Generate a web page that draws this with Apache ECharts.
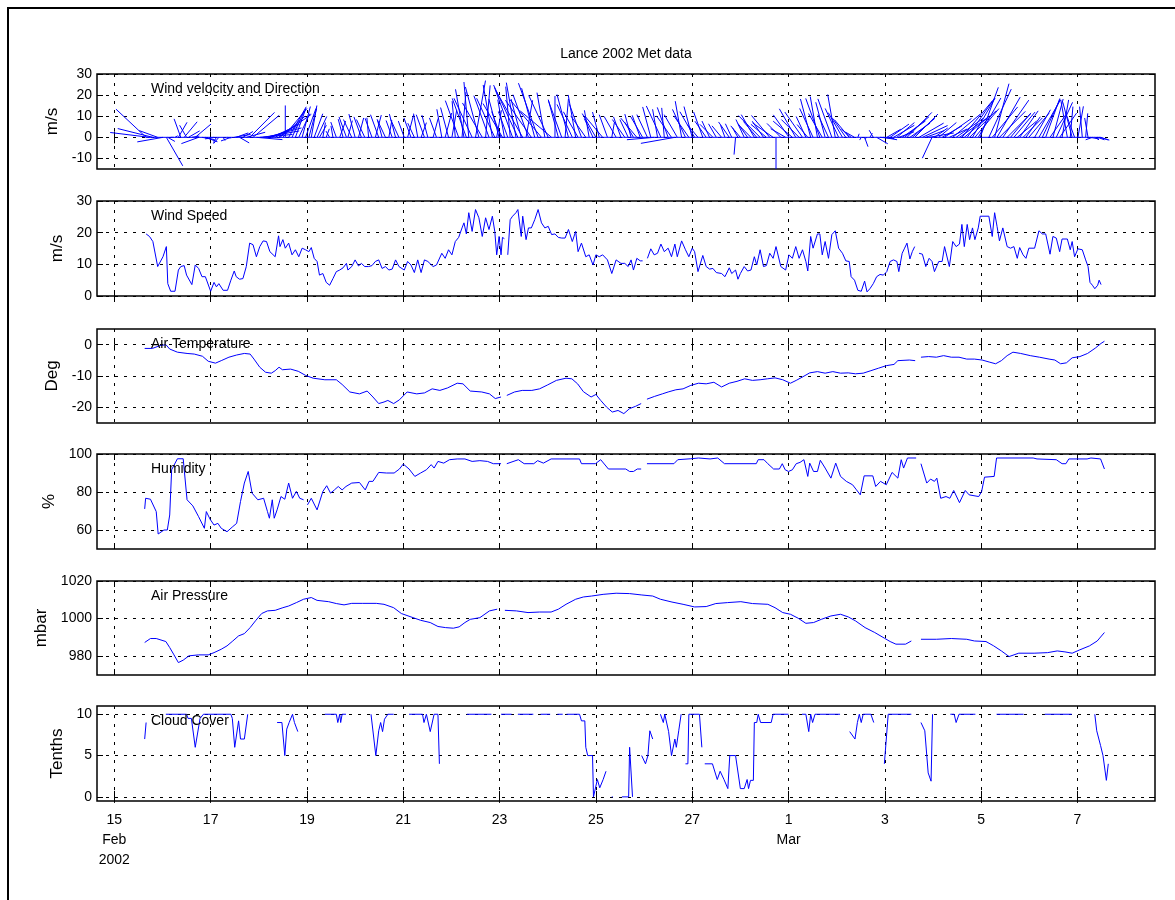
<!DOCTYPE html>
<html><head><meta charset="utf-8">
<script src="https://cdn.jsdelivr.net/npm/echarts@6/dist/echarts.min.js"></script>
<style>html,body{margin:0;padding:0;background:#fff}#c{width:1175px;height:900px}</style>
</head><body><div id="c"></div>
<script>
// ---- time axis (days of Feb 2002; 29 = 1 Mar) ----
const xTickDays = [15,17,19,21,23,25,27,29,31,33,35];
const xTickLabels = ['15\nFeb\n2002','17','19','21','23','25','27','1\nMar','3','5','7'];

// ---- wind speed (m/s) and wind direction of each stick (deg, 0 = toward +v, 90 = toward +u) ----
const windT = [15.66,15.73,15.80,15.90,16.01,16.08,16.11,16.17,16.26,16.33,16.38,16.45,16.50,16.54,16.61,16.68,16.75,16.82,16.89,17.00,
17.07,17.12,17.17,17.26,17.35,17.42,17.49,17.53,17.60,17.67,17.74,17.81,17.88,17.95,18.02,18.09,18.16,18.23,18.27,18.34,
18.41,18.44,18.50,18.55,18.62,18.69,18.76,18.83,18.90,18.97,19.04,19.09,19.15,19.21,19.26,19.33,19.40,19.47,19.54,19.61,
19.68,19.75,19.82,19.85,19.93,20.00,20.07,20.13,20.20,20.28,20.35,20.42,20.49,20.56,20.63,20.70,20.77,20.84,20.91,21.02,
21.09,21.16,21.23,21.30,21.37,21.44,21.51,21.62,21.69,21.80,21.87,21.94,22.01,22.08,22.15,22.22,22.26,22.31,22.36,22.43,
22.50,22.57,22.64,22.71,22.78,22.85,22.90,22.94,22.99,23.03,23.06,23.10,23.13,23.17,23.22,23.27,23.34,23.38,23.45,23.48,
23.55,23.60,23.66,23.73,23.80,23.87,23.94,24.01,24.08,24.15,24.22,24.29,24.36,24.43,24.51,24.58,24.63,24.70,24.79,24.86,
24.94,25.00,25.07,25.14,25.24,25.33,25.42,25.52,25.60,25.67,25.73,25.78,25.85,25.92,25.97,26.02,26.07,26.14,26.21,26.28,
26.35,26.42,26.50,26.57,26.64,26.69,26.78,26.86,26.93,27.00,27.05,27.12,27.22,27.29,27.36,27.43,27.50,27.61,27.68,27.77,
27.82,27.90,27.95,28.00,28.08,28.15,28.22,28.29,28.34,28.41,28.48,28.54,28.61,28.68,28.74,28.84,28.94,29.01,29.08,29.15,
29.22,29.29,29.36,29.40,29.46,29.51,29.60,29.65,29.70,29.76,29.83,29.90,29.97,30.04,30.12,30.19,30.26,30.30,30.37,30.44,
30.51,30.58,30.63,30.69,30.76,30.83,30.90,30.97,31.04,31.11,31.18,31.25,31.29,31.36,31.41,31.46,31.52,31.57,31.62,31.66,
31.71,31.78,31.85,31.92,31.98,32.03,32.12,32.19,32.24,32.34,32.41,32.48,32.55,32.60,32.65,32.71,32.76,32.82,32.87,32.94,
32.98,33.16,33.23,33.28,33.33,33.38,33.45,33.54,33.61,33.68,33.75,33.80,33.87,33.93,33.99,34.11,34.20,34.27,34.34,34.43,
34.49,34.56,34.63,34.68,34.79,34.85,34.89,34.94,35.01,35.10,35.17,35.22,35.26,35.31,35.36,35.42,35.45,35.49];
const windS = [19.6,18.8,17.2,9.3,12.4,15.6,3.9,1.5,1.5,8.2,9.3,9.6,6.6,6.1,3.6,9.8,8.7,6.1,6.1,1.5,
4.3,2.9,3.9,1.8,1.8,5.0,7.9,6.1,5.3,5.5,9.3,16.7,16.2,12.4,15.6,17.4,17.2,14.0,14.6,12.4,
19.0,15.6,17.8,15.1,16.7,13.0,14.6,12.4,15.1,14.6,14.0,15.3,11.9,10.9,6.6,7.1,4.3,3.4,5.5,7.7,
8.2,8.9,10.3,8.2,9.3,11.4,9.5,10.3,9.3,9.3,9.6,10.9,11.4,8.7,9.3,8.2,8.5,11.4,9.3,8.2,
10.9,9.8,7.4,11.4,7.4,11.4,10.9,9.3,9.8,13.5,11.9,14.6,13.0,17.2,18.5,21.5,23.1,19.6,26.3,20.4,
27.3,24.7,18.8,24.7,21.0,25.2,20.4,13.0,18.8,13.0,18.5,18.1,null,13.0,24.1,25.2,26.3,27.3,18.8,25.2,
17.8,21.5,21.5,24.1,27.3,23.1,21.5,22.0,19.4,19.6,18.5,18.3,18.3,21.0,17.2,20.4,14.0,16.7,12.4,13.0,
9.8,13.0,12.4,13.0,11.4,7.1,11.4,10.3,10.3,9.3,11.4,8.2,11.9,11.1,11.1,null,11.9,14.9,13.0,13.5,
16.4,14.0,15.1,12.4,16.4,12.4,17.4,14.6,12.4,15.1,14.0,7.7,12.8,9.3,8.5,8.7,7.4,7.1,6.1,8.9,
7.1,8.2,5.3,7.1,9.3,7.9,8.2,12.4,9.8,14.6,9.3,9.6,13.5,11.9,15.6,9.3,8.2,13.0,11.9,15.6,
11.9,14.6,10.9,7.9,18.8,15.1,19.6,19.6,13.0,17.2,11.9,19.4,20.6,15.1,13.5,11.1,10.9,6.1,5.0,1.8,
1.5,4.7,1.3,2.3,3.9,6.1,6.8,6.6,7.7,10.9,11.4,10.9,7.7,13.5,15.1,16.7,11.7,14.0,15.6,null,
13.5,13.2,9.3,11.9,10.9,7.7,10.9,10.9,15.6,9.3,17.2,15.6,16.4,22.6,15.6,22.6,17.8,21.5,17.8,21.5,
25.2,25.2,18.8,26.3,22.0,17.4,21.5,15.6,15.1,15.6,11.9,15.3,13.0,11.9,15.1,15.1,20.6,19.6,19.6,13.2,
18.8,18.3,14.0,18.0,18.0,14.6,17.2,12.4,14.9,14.6,11.4,9.3,4.3,3.4,2.3,3.4,5.0,3.6];
const windDir = [-47,-83,-76,-70,-100,150,120,90,60,30,-20,40,-30,60,80,50,-110,100,110,-120,
-100,-150,-140,150,100,-110,80,70,120,60,75,45,50,95,85,80,75,70,65,60,
55,50,40,0,30,25,20,25,15,20,15,10,20,25,30,10,20,-30,-10,-20,
20,-15,-20,15,-25,-15,15,-20,-25,-5,-20,15,-20,-15,-25,10,-20,-15,-25,-20,
15,-20,-25,-10,20,-20,-15,15,-20,-10,15,-15,10,-5,-20,5,-10,-20,-5,-25,
10,-15,-30,5,-20,-10,-25,10,-15,-20,-30,-10,null,-20,-5,-20,-10,-25,-15,-30,
10,-20,-35,-15,-20,-40,-10,-25,-50,0,-15,-20,5,-15,-25,-10,-30,-20,-35,-10,
-25,-30,-15,-40,-20,10,-30,-20,-35,-25,-15,-30,-40,-20,-30,null,-25,-15,-95,-10,
-25,-5,-20,-35,-100,-30,-10,-25,-35,-15,-30,-40,-20,-35,-25,-45,-30,-40,-20,-35,
-25,185,-30,-40,-25,-35,-45,-30,-40,-45,-35,-50,-40,-55,180,-45,-60,-35,-50,-30,
-45,-35,-25,-40,-15,-25,-10,-20,-30,-15,-25,-20,-10,-25,-30,-35,-40,-50,-60,20,
-150,160,-120,30,-30,120,95,100,60,55,60,50,70,55,50,45,55,50,45,null,
60,65,70,80,205,55,50,60,55,65,50,55,55,40,50,35,45,30,40,30,
20,25,40,15,30,45,35,45,40,40,50,35,45,35,40,30,30,25,20,35,
15,25,35,10,-10,5,-15,-20,10,-5,5,-10,100,-110,120,110,105,110];

// ---- air temperature (deg C) ----
const tempT = [15.63,15.79,15.95,16.07,16.15,16.31,16.51,16.66,16.83,16.95,17.10,17.22,17.38,17.54,17.70,17.82,17.90,18.02,18.14,18.26,
18.34,18.42,18.49,18.66,18.82,18.97,19.13,19.37,19.61,19.73,19.89,20.09,20.25,20.37,20.49,20.60,20.68,20.80,20.92,21.08,
21.28,21.44,21.60,21.76,21.92,22.12,22.24,22.39,22.63,22.79,22.91,23.03,23.09,23.15,23.31,23.47,23.67,23.83,23.99,24.18,
24.38,24.50,24.62,24.74,24.90,25.00,25.10,25.22,25.34,25.46,25.58,25.70,25.82,25.94,26.00,26.06,26.22,26.38,26.50,26.66,
26.81,26.97,27.13,27.29,27.45,27.61,27.77,27.93,28.09,28.25,28.41,28.56,28.72,28.88,29.04,29.16,29.28,29.44,29.60,29.76,
29.92,30.08,30.24,30.39,30.55,30.71,30.87,31.03,31.19,31.27,31.51,31.63,31.69,31.75,31.91,32.07,32.22,32.38,32.54,32.70,
32.86,33.02,33.18,33.30,33.42,33.54,33.66,33.82,34.02,34.21,34.41,34.53,34.65,34.77,34.89,35.05,35.21,35.37,35.49,35.56];
const tempV = [-1.2,-1.2,-0.3,0.0,-1.4,-2.4,-2.8,-3.0,-3.7,-5.3,-5.9,-5.1,-4.0,-3.3,-2.8,-3.0,-4.6,-7.2,-8.8,-9.1,
-8.3,-7.2,-8.0,-7.8,-8.5,-9.8,-10.7,-11.2,-11.2,-12.7,-15.1,-15.7,-14.8,-16.7,-18.8,-18.3,-17.8,-18.8,-17.6,-15.1,
-15.7,-15.4,-14.1,-14.6,-13.8,-12.3,-12.5,-14.8,-15.1,-15.7,-17.2,-16.7,null,-16.2,-15.1,-14.6,-14.6,-14.1,-12.9,-11.4,
-10.7,-10.9,-12.5,-15.0,-16.7,-15.9,-17.8,-19.9,-21.5,-21.0,-22.0,-20.4,-19.7,-18.8,null,-17.4,-16.5,-15.7,-15.1,-14.4,
-14.1,-13.0,-12.3,-12.5,-12.0,-13.5,-12.3,-11.7,-10.9,-11.4,-11.2,-10.9,-10.6,-11.2,-12.3,-11.4,-10.4,-9.0,-8.6,-9.1,
-8.6,-9.1,-9.0,-9.3,-9.1,-8.3,-7.5,-6.7,-6.3,-5.1,-4.9,-5.1,null,-4.0,-3.8,-4.0,-3.5,-4.0,-4.0,-4.6,
-4.6,-4.9,-5.6,-6.1,-5.1,-3.5,-2.4,-2.8,-3.5,-4.0,-4.6,-4.9,-6.1,-5.8,-4.2,-3.8,-2.8,-1.1,0.4,1.1];

// ---- humidity (%) ----
const humT = [15.63,15.65,15.75,15.87,15.91,16.03,16.10,16.15,16.19,16.31,16.43,16.51,16.63,16.75,16.87,16.91,16.99,17.07,17.15,17.22,
17.34,17.46,17.54,17.62,17.70,17.78,17.86,17.98,18.10,18.18,18.22,18.28,18.32,18.38,18.46,18.54,18.62,18.70,18.78,18.85,
18.93,18.97,19.01,19.09,19.21,19.33,19.41,19.49,19.57,19.65,19.73,19.81,19.93,20.09,20.21,20.29,20.37,20.49,20.65,20.81,
20.92,21.00,21.12,21.24,21.36,21.48,21.58,21.64,21.72,21.84,21.96,22.12,22.28,22.43,22.59,22.75,22.87,23.03,23.09,23.15,
23.39,23.51,23.71,23.79,23.91,24.07,24.38,24.66,24.70,24.99,25.10,25.26,25.62,25.70,25.78,25.86,25.94,26.00,26.06,26.62,
26.70,26.97,27.13,27.37,27.53,27.67,28.33,28.37,28.49,28.57,28.69,28.81,28.87,28.93,29.00,29.08,29.16,29.24,29.32,29.40,
29.44,29.52,29.60,29.66,29.76,29.88,29.98,30.08,30.20,30.33,30.40,30.49,30.57,30.75,30.81,30.91,31.03,31.15,31.27,31.34,
31.39,31.47,31.65,31.70,31.75,31.87,31.95,32.03,32.08,32.16,32.27,32.35,32.43,32.55,32.67,32.75,32.95,33.01,33.07,33.27,
33.32,34.08,34.16,34.56,34.68,34.76,34.82,35.20,35.28,35.48,35.56];
const humV = [71.1,76.7,76.2,69.7,57.9,60.0,60.0,67.9,91.7,97.5,97.5,75.9,72.7,67.0,60.9,69.7,65.6,62.6,63.5,60.9,
59.1,61.8,63.5,75.0,84.7,90.8,79.4,75.9,76.7,69.7,66.2,75.9,66.2,70.6,77.6,76.2,84.7,76.7,80.3,76.7,
75.9,null,73.2,76.7,70.6,80.3,83.3,79.4,81.1,82.9,81.1,82.9,84.7,85.0,81.1,85.6,85.6,90.3,90.0,90.0,
92.1,94.7,92.1,88.2,90.0,91.7,94.4,92.6,96.1,95.2,97.0,97.4,97.4,96.1,96.5,96.1,94.9,94.9,null,94.9,
97.0,94.9,94.9,96.5,95.2,97.4,97.4,97.4,94.9,94.9,97.0,92.1,92.1,90.8,90.8,92.1,92.1,null,94.9,94.9,
97.0,97.5,97.9,97.4,97.9,94.9,94.9,97.0,97.0,94.9,92.1,92.1,94.9,91.7,90.8,91.7,94.9,95.6,97.0,88.2,
95.2,90.8,90.8,96.7,92.6,87.3,95.2,88.2,85.6,83.8,81.5,78.5,88.5,88.5,82.9,85.6,83.8,90.3,87.3,97.0,
92.6,97.9,97.9,null,94.9,84.7,86.8,85.6,87.3,76.7,77.6,76.7,80.8,74.4,80.8,78.5,77.6,80.3,87.8,88.2,
97.9,97.9,97.4,97.0,94.9,94.9,97.4,97.4,97.9,97.4,92.1];

// ---- air pressure (mbar) ----
const presT = [15.63,15.75,15.87,16.07,16.15,16.23,16.33,16.43,16.55,16.75,16.95,17.07,17.22,17.34,17.46,17.58,17.70,17.82,17.94,18.06,
18.18,18.34,18.50,18.62,18.78,18.93,19.09,19.21,19.45,19.61,19.77,19.93,20.16,20.44,20.60,20.80,20.96,21.16,21.36,21.56,
21.72,21.88,22.04,22.16,22.28,22.39,22.59,22.79,22.95,23.05,23.11,23.35,23.59,23.83,24.07,24.22,24.38,24.58,24.74,24.91,
25.15,25.42,25.70,25.94,26.18,26.34,26.58,26.81,27.05,27.29,27.49,27.73,28.01,28.25,28.57,28.72,28.88,29.04,29.20,29.36,
29.52,29.68,29.88,30.08,30.24,30.39,30.59,30.79,30.99,31.11,31.23,31.43,31.55,31.66,31.75,32.07,32.38,32.70,32.86,33.10,
33.26,33.42,33.58,33.78,34.10,34.38,34.58,34.74,34.89,35.05,35.25,35.41,35.56];
const presV = [987.3,989.4,989.4,987.8,984.6,981.1,976.6,977.9,980.2,980.7,980.7,981.9,983.7,985.5,988.1,990.8,992.0,995.2,999.1,1002.7,
1004.1,1004.4,1005.8,1006.7,1008.5,1010.3,1011.2,1009.7,1009.0,1008.0,1007.3,1008.1,1008.1,1008.1,1007.6,1005.8,1002.7,1000.9,999.1,997.9,
995.8,995.2,994.9,995.6,997.9,999.6,1000.5,1004.1,1005.0,null,1004.4,1004.1,1003.2,1003.5,1003.5,1005.0,1007.6,1010.3,1011.5,1012.0,
1012.9,1013.5,1013.3,1012.6,1012.0,1010.3,1008.8,1007.6,1006.2,1006.4,1008.0,1008.5,1009.0,1008.0,1007.6,1005.8,1003.2,1002.3,1000.2,997.5,
997.9,999.6,1001.4,1002.3,1000.9,998.8,995.2,992.6,989.6,987.8,986.4,986.4,988.1,null,989.0,989.0,989.4,989.0,988.1,987.8,
985.5,982.8,979.8,981.6,981.6,981.9,982.8,982.3,981.6,983.4,985.5,988.1,992.6];

// ---- cloud cover (tenths) ----
const cloudT = [15.63,15.66,15.80,16.07,16.50,16.53,16.60,16.68,16.78,16.85,17.42,17.45,17.50,17.58,17.62,17.70,17.77,18.00,18.38,18.48,
18.54,18.58,18.63,18.70,18.74,18.81,19.00,19.37,19.61,19.64,19.68,19.70,19.73,19.81,20.00,20.33,20.43,20.49,20.53,20.57,
20.61,20.68,20.80,21.00,21.12,21.40,21.43,21.48,21.56,21.64,21.72,21.75,22.00,22.32,22.83,22.90,23.03,23.25,23.30,23.38,
23.70,23.75,23.85,24.05,24.15,24.20,24.31,24.35,24.39,24.66,24.70,24.77,24.79,24.83,24.93,24.95,24.99,25.03,25.08,25.15,
25.21,25.28,25.33,25.35,25.45,25.54,25.68,25.70,25.76,25.85,25.95,25.99,26.03,26.08,26.12,26.18,26.25,26.34,26.40,26.43,
26.51,26.57,26.64,26.67,26.72,26.77,26.82,26.86,26.91,26.93,27.15,27.20,27.23,27.26,27.42,27.52,27.58,27.66,27.74,27.78,
27.90,28.00,28.08,28.14,28.17,28.21,28.27,28.29,28.34,28.37,28.42,28.64,28.68,29.00,29.10,29.28,29.36,29.42,29.46,29.50,
29.55,30.07,30.15,30.27,30.38,30.43,30.47,30.51,30.55,30.71,30.77,30.88,30.99,31.07,31.55,31.65,31.75,31.83,31.90,31.96,
31.99,32.10,32.36,32.44,32.48,32.54,32.88,33.00,33.32,33.88,34.00,34.32,34.88,35.00,35.36,35.40,35.48,35.53,35.60,35.64];
const cloudV = [7,9,null,10,10,9.5,9.5,6,9.5,10,10,9.5,6,9.2,7,7,10,null,9,9,
5,8.2,9,10,9,7.9,null,10,10,9,10,9,10,10,null,10,5,8,9,7.9,
9.4,10,10,null,10,10,9,10,7.9,10,10,4,null,10,10,null,10,10,null,10,
10,null,10,10,null,10,10,null,10,10,9.2,9.2,6,5,5,0,0,2.1,1.1,2.1,
3.1,null,0,0,null,0,0,6,0,null,5,5,4,5,8,7,null,10,9,10,
7.9,5,7,6,8,10,null,4,4,10,10,6,null,4,4,2.1,3.1,2.1,1,5,
5,1,1,2.1,1,2,2,9,9,10,9,9,10,10,null,10,10,7.9,10,9,
10,10,null,7.9,7,9,10,9,10,10,9,null,4,10,10,null,9,8,2.9,1.9,
10,null,10,10,9,10,10,null,10,10,null,10,10,null,10,8,6.2,5,2,4];

// ---- y-axis tick values ----
const velTicks = [-10,0,10,20,30];
const speedTicks = [0,10,20,30];
const tempTicks = [-20,-10,0];
const humTicks = [60,80,100];
const presTicks = [980,1000,1020];
const cloudTicks = [0,5,10];

const panelNames = ['m/s','m/s','Deg','%','mbar','Tenths'];
const panelLabels = ['Wind velocity and Direction','Wind Speed','Air Temperature','Humidity','Air Pressure','Cloud Cover'];
const panelTicks = [velTicks, speedTicks, tempTicks, humTicks, presTicks, cloudTicks];
const panelRange = [[-15,30],[0,30],[-25,5],[50,100],[970,1020],[-0.5,11]];

// ---------------- layout / styles ----------------
const FONT = '"Liberation Sans", Arial, Helvetica, sans-serif';
const gridTops = [74, 201, 329, 454, 581, 706];
const gridHeights = [95, 95, 94, 95, 94, 95];
const nameGaps = [26, 26, 25, 31, 28, 30];
const GL = 97, GR = 20;
const xMin = 14.64, xMax = 36.61;
const BLUE = '#0000ff';
const featherScale = 0.0437; // days per m/s of east component (equal pixel aspect)

const zip = (t, v) => t.map((x, i) => [x, v[i] == null ? '-' : v[i]]);

const grids = [], xAxes = [], yAxes = [], series = [], graphics = [];
for (let i = 0; i < 6; i++) {
  grids.push({left: GL, right: GR, top: gridTops[i], height: gridHeights[i], show: true,
    borderColor: '#000', borderWidth: 1.5, backgroundColor: 'transparent'});
  const last = i === 5;
  xAxes.push({type: 'value', gridIndex: i, min: xMin, max: xMax, position: 'bottom',
    axisLine: {show: false},
    axisTick: {show: true, inside: true, length: 6, customValues: xTickDays, lineStyle: {color: '#000', width: 1}},
    axisLabel: {show: last, customValues: xTickDays, margin: 9, fontSize: 14, color: '#000', fontFamily: FONT,
      lineHeight: 20, formatter: v => { const k = xTickDays.indexOf(v); return k >= 0 ? xTickLabels[k] : ''; }},
    splitLine: {show: true, lineStyle: {color: '#000', type: [3, 6], width: 1}}
  });
  xAxes.push({type: 'value', gridIndex: i, min: xMin, max: xMax, position: 'top',
    axisLine: {show: false},
    axisTick: {show: true, inside: true, length: 6, customValues: xTickDays, lineStyle: {color: '#000', width: 1}},
    axisLabel: {show: false}, splitLine: {show: false}
  });
  const tk = panelTicks[i];
  yAxes.push({type: 'value', gridIndex: i, min: panelRange[i][0], max: panelRange[i][1], position: 'left',
    name: panelNames[i], nameLocation: 'middle', nameGap: nameGaps[i], nameRotate: 90,
    nameTextStyle: {fontSize: 17, color: '#000', fontFamily: FONT},
    axisLine: {show: false},
    axisTick: {show: true, inside: true, length: 6, customValues: tk, lineStyle: {color: '#000'}},
    axisLabel: {customValues: tk, margin: 5, fontSize: 14, color: '#000', fontFamily: FONT,
      formatter: v => String(v)},
    splitLine: {show: true, lineStyle: {color: '#000', type: [3, 6], width: 1}}
  });
  yAxes.push({type: 'value', gridIndex: i, min: panelRange[i][0], max: panelRange[i][1], position: 'right',
    axisLine: {show: false},
    axisTick: {show: true, inside: true, length: 6, customValues: tk, lineStyle: {color: '#000'}},
    axisLabel: {show: false}, splitLine: {show: false}
  });
  graphics.push({type: 'text', x: 151, y: gridTops[i] + 15, z: 100,
    style: {text: panelLabels[i], fontSize: 14, fontFamily: FONT, fill: '#000', verticalAlign: 'middle'}});
}

const lineCommon = {type: 'line', showSymbol: false, symbol: 'none', connectNulls: false,
  lineStyle: {color: BLUE, width: 1}, itemStyle: {color: BLUE}, animation: false, clip: true};

// feather (stick) plot
const featherData = [];
windT.forEach((t, i) => { if (windS[i] != null && windDir[i] != null) featherData.push([t, windS[i], windDir[i]]); });
series.push({type: 'custom', xAxisIndex: 0, yAxisIndex: 0, clip: true, animation: false, silent: true,
  data: featherData,
  renderItem: (params, api) => {
    const t = api.value(0), s = api.value(1), a = api.value(2) * Math.PI / 180;
    const u = s * Math.sin(a), v = s * Math.cos(a);
    const p0 = api.coord([t, 0]);
    const p1 = api.coord([t + u * featherScale, v]);
    return {type: 'line', shape: {x1: p0[0], y1: p0[1], x2: p1[0], y2: p1[1]},
      style: {stroke: BLUE, lineWidth: 1}};
  }
});
series.push(Object.assign({}, lineCommon, {xAxisIndex: 0, yAxisIndex: 0,
  data: [[windT[0], 0], [windT[windT.length - 1], 0]]}));
series.push(Object.assign({}, lineCommon, {xAxisIndex: 2, yAxisIndex: 2, data: zip(windT, windS)}));
series.push(Object.assign({}, lineCommon, {xAxisIndex: 4, yAxisIndex: 4, data: zip(tempT, tempV)}));
series.push(Object.assign({}, lineCommon, {xAxisIndex: 6, yAxisIndex: 6, data: zip(humT, humV)}));
series.push(Object.assign({}, lineCommon, {xAxisIndex: 8, yAxisIndex: 8, data: zip(presT, presV)}));
series.push(Object.assign({}, lineCommon, {xAxisIndex: 10, yAxisIndex: 10, data: zip(cloudT, cloudV)}));

graphics.push({type: 'text', x: 626, y: 54, z: 100,
  style: {text: 'Lance 2002 Met data', fontSize: 14, fontFamily: FONT, fill: '#000', align: 'center', verticalAlign: 'middle'}});
graphics.push({type: 'rect', z: 100, shape: {x: 8, y: 8, width: 1400, height: 1200},
  style: {fill: 'none', stroke: '#000', lineWidth: 2}});

const chart = echarts.init(document.getElementById('c'), null, {renderer: 'canvas'});
chart.setOption({
  backgroundColor: '#fff',
  animation: false,
  textStyle: {fontFamily: FONT},
  grid: grids, xAxis: xAxes, yAxis: yAxes, series: series, graphic: graphics
});
</script></body></html>
